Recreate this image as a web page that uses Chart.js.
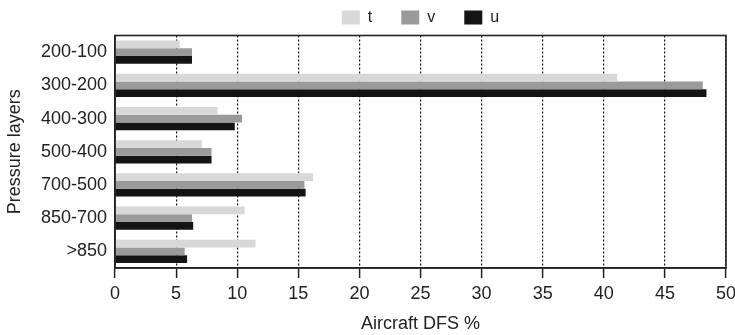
<!DOCTYPE html>
<html>
<head>
<meta charset="utf-8">
<script src="https://cdn.jsdelivr.net/npm/chart.js@4/dist/chart.umd.min.js"></script>
<style>
  html, body { margin: 0; padding: 0; background: #fff; }
  #wrap { width: 735px; height: 335px; }
</style>
</head>
<body>
<div id="wrap"><canvas id="c" width="735" height="335"></canvas></div>
<script>
const categories = ['200-100', '300-200', '400-300', '500-400', '700-500', '850-700', '>850'];
const seriesT = [5.3, 41.1, 8.4, 7.1, 16.2, 10.6, 11.5];
const seriesV = [6.3, 48.1, 10.4, 7.9, 15.5, 6.3, 5.7];
const seriesU = [6.3, 48.4, 9.8, 7.9, 15.6, 6.4, 5.9];
const seriesNames = ['t', 'v', 'u'];
const xTicks = [0, 5, 10, 15, 20, 25, 30, 35, 40, 45, 50];

const FONT = '"Liberation Sans", Arial, Helvetica, sans-serif';
const TXT = '#222';

const framePlugin = {
  id: 'frame',
  afterDatasetsDraw(chart) {
    const a = chart.chartArea;
    const ctx = chart.ctx;
    ctx.save();
    ctx.strokeStyle = '#222';
    ctx.lineWidth = 1.6;
    ctx.strokeRect(a.left, a.top, a.right - a.left, a.bottom - a.top);
    ctx.restore();
  }
};

new Chart(document.getElementById('c'), {
  type: 'bar',
  data: {
    labels: categories,
    datasets: [
      { label: seriesNames[0], data: seriesT, backgroundColor: '#d8d8d8' },
      { label: seriesNames[1], data: seriesV, backgroundColor: '#9a9a9a' },
      { label: seriesNames[2], data: seriesU, backgroundColor: '#141414' }
    ]
  },
  options: {
    indexAxis: 'y',
    responsive: false,
    animation: false,
    devicePixelRatio: 1,
    layout: { padding: { top: -19.5, left: 0, right: 9, bottom: 0 } },
    datasets: { bar: { categoryPercentage: 0.7, barPercentage: 1.0, borderWidth: 0 } },
    plugins: {
      tooltip: { enabled: false },
      legend: {
        position: 'top',
        fullSize: false,
        labels: {
          boxWidth: 18,
          boxHeight: 14,
          padding: 29,
          color: TXT,
          font: { family: FONT, size: 16 }
        }
      }
    },
    scales: {
      x: {
        type: 'linear',
        min: 0,
        max: 50,
        afterBuildTicks(scale) { scale.ticks = xTicks.map(v => ({ value: v })); },
        afterFit(scale) { scale.height = 67; scale.paddingLeft = 0; scale.paddingRight = 0; },
        grid: {
          display: true,
          drawOnChartArea: true,
          drawTicks: true,
          tickLength: 10,
          color: '#111',
          lineWidth: 1.2,
          tickColor: '#222',
          tickWidth: 1.5
        },
        border: { display: true, color: '#222', width: 1.6, dash: [2, 2] },
        ticks: {
          padding: 5,
          color: TXT,
          font: { family: FONT, size: 18 },
          maxRotation: 0
        },
        title: {
          display: true,
          text: 'Aircraft DFS %',
          color: TXT,
          font: { family: FONT, size: 18 },
          padding: { top: 0, bottom: 0 }
        }
      },
      y: {
        type: 'category',
        afterFit(scale) { scale.width = 115; },
        grid: { display: false, drawTicks: false },
        border: { display: true, color: '#222', width: 1.6 },
        ticks: {
          padding: 8,
          color: TXT,
          font: { family: FONT, size: 18 }
        },
        title: {
          display: true,
          text: 'Pressure layers',
          color: TXT,
          font: { family: FONT, size: 18 },
          padding: { top: 4, bottom: 0 }
        }
      }
    }
  },
  plugins: [framePlugin]
});
</script>
</body>
</html>
